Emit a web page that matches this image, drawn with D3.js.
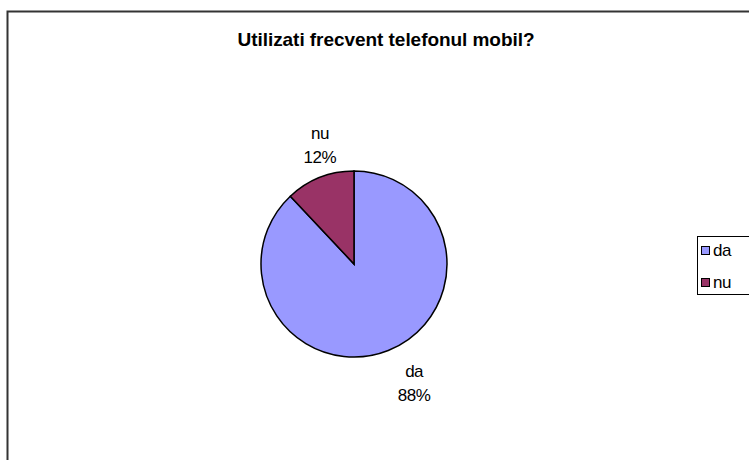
<!DOCTYPE html>
<html>
<head>
<meta charset="utf-8">
<script src="https://cdn.jsdelivr.net/npm/d3@7"></script>
<style>
  body { margin: 0; background: #fff; }
  text { font-family: "Liberation Sans", Arial, sans-serif; }
</style>
</head>
<body>
<div id="chart"></div>
<script>
// data
const categories = ['da', 'nu'];
const percents = [88, 12];
const colors = ['#9999ff', '#993366'];
const title = 'Utilizati frecvent telefonul mobil?';

const width = 749, height = 460;
const center = { x: 354, y: 264 };
const radius = 93;
const labelShift = 13; // excel puts the labels a bit to the right

const svg = d3.select('#chart').append('svg')
  .attr('width', width)
  .attr('height', height);

// chart frame (runs off the right and bottom edges)
svg.append('rect')
  .attr('x', 7.5).attr('y', 11.5)
  .attr('width', 760).attr('height', 470)
  .attr('fill', 'none')
  .attr('stroke', '#333')
  .attr('stroke-width', 2);

svg.append('text')
  .attr('x', 386).attr('y', 46)
  .attr('text-anchor', 'middle')
  .attr('font-size', 19)
  .attr('font-weight', 'bold')
  .attr('letter-spacing', -0.05)
  .text(title);

const data = categories.map((c, i) => ({ cat: c, value: percents[i] }));
const color = d3.scaleOrdinal().domain(categories).range(colors);

const pie = d3.pie().sort(null).value(d => d.value);
const arc = d3.arc().innerRadius(0).outerRadius(radius);
const labelArc = d3.arc().innerRadius(128).outerRadius(128);

const g = svg.append('g').attr('transform', `translate(${center.x},${center.y})`);

g.selectAll('path')
  .data(pie(data))
  .join('path')
  .attr('d', arc)
  .attr('fill', d => color(d.data.cat))
  .attr('stroke', '#000')
  .attr('stroke-width', 1.5);

const labels = g.selectAll('.lbl')
  .data(pie(data))
  .join('text')
  .attr('class', 'lbl')
  .attr('text-anchor', 'middle')
  .attr('font-size', 17)
  .attr('letter-spacing', -0.5)
  .attr('transform', d => {
    const [x, y] = labelArc.centroid(d);
    return `translate(${x + labelShift},${y})`;
  });
labels.append('tspan').attr('x', 0).attr('dy', '-0.35em').text(d => d.data.cat);
labels.append('tspan').attr('x', 0).attr('dy', '1.4em').text(d => d.data.value + '%');

// legend (cut off by the right edge)
const legend = svg.append('g').attr('transform', 'translate(697,236)');
legend.append('rect')
  .attr('x', 0.5).attr('y', 0.5)
  .attr('width', 80).attr('height', 58)
  .attr('fill', '#fff')
  .attr('stroke', '#000');

const item = legend.selectAll('.item')
  .data(categories)
  .join('g')
  .attr('class', 'item')
  .attr('transform', (d, i) => `translate(0,${10 + i * 32})`);
item.append('rect')
  .attr('x', 4.5).attr('y', 0.5)
  .attr('width', 8).attr('height', 8)
  .attr('fill', d => color(d))
  .attr('stroke', '#000');
item.append('text')
  .attr('x', 16).attr('y', 10)
  .attr('font-size', 17)
  .attr('letter-spacing', -0.5)
  .text(d => d);
</script>
</body>
</html>
